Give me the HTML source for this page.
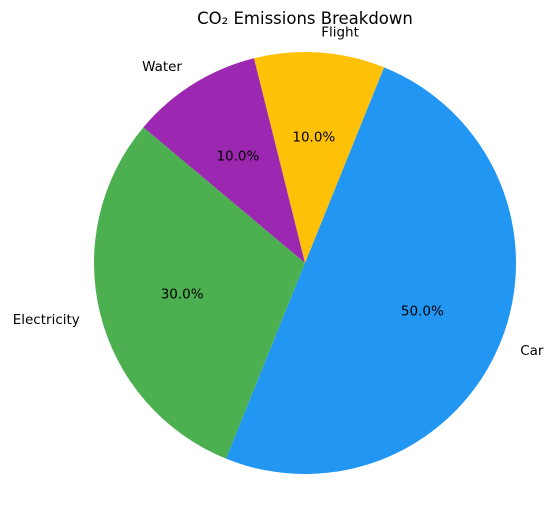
<!DOCTYPE html>
<html><head><meta charset="utf-8"><style>
html,body{margin:0;padding:0;background:#fff;}
svg text{font-family:"DejaVu Sans","Liberation Sans",sans-serif;}
</style></head><body>
<svg id="chart" width="554" height="504" viewBox="0 0 554 504">
<text x="305" y="24" text-anchor="middle" font-size="16.5" fill="#000">CO₂ Emissions Breakdown</text>
<g id="slices"></g>
</svg>
<script>
const categories = ["Car", "Flight", "Water", "Electricity"];
const values = [50, 10, 10, 30];
const colors = ["#2196F3", "#FFC107", "#9C27B0", "#4CAF50"];
const startAngle = -112;
const cx = 305, cy = 263, r = 211;
const ns = "http://www.w3.org/2000/svg";
const g = document.getElementById("slices");
const total = values.reduce((a, b) => a + b, 0);
function pt(deg, rad) {
  const a = deg * Math.PI / 180;
  return [cx + rad * Math.cos(a), cy - rad * Math.sin(a)];
}
let ang = startAngle;
values.forEach((v, i) => {
  const sweep = v / total * 360;
  const a0 = ang, a1 = ang + sweep;
  const p0 = pt(a0, r), p1 = pt(a1, r);
  const large = sweep > 180 ? 1 : 0;
  const path = document.createElementNS(ns, "path");
  path.setAttribute("d", `M${cx},${cy} L${p0[0]},${p0[1]} A${r},${r} 0 ${large} 0 ${p1[0]},${p1[1]} Z`);
  path.setAttribute("fill", colors[i]);
  
  
  g.appendChild(path);
  const mid = (a0 + a1) / 2;
  const lp = pt(mid, r * 1.1);
  const lab = document.createElementNS(ns, "text");
  lab.setAttribute("x", lp[0]);
  lab.setAttribute("y", lp[1] + 5);
  lab.setAttribute("font-size", "13.5");
  lab.setAttribute("text-anchor", Math.cos(mid * Math.PI / 180) >= 0 ? "start" : "end");
  lab.textContent = categories[i];
  
  
  g.appendChild(lab);
  const pp = pt(mid, r * 0.6);
  const pct = document.createElementNS(ns, "text");
  pct.setAttribute("x", pp[0]);
  pct.setAttribute("y", pp[1] + 5);
  pct.setAttribute("font-size", "13.5");
  pct.setAttribute("text-anchor", "middle");
  pct.textContent = (v / total * 100).toFixed(1) + "%";
  
  
  g.appendChild(pct);
  ang = a1;
});
</script>
</body></html>
